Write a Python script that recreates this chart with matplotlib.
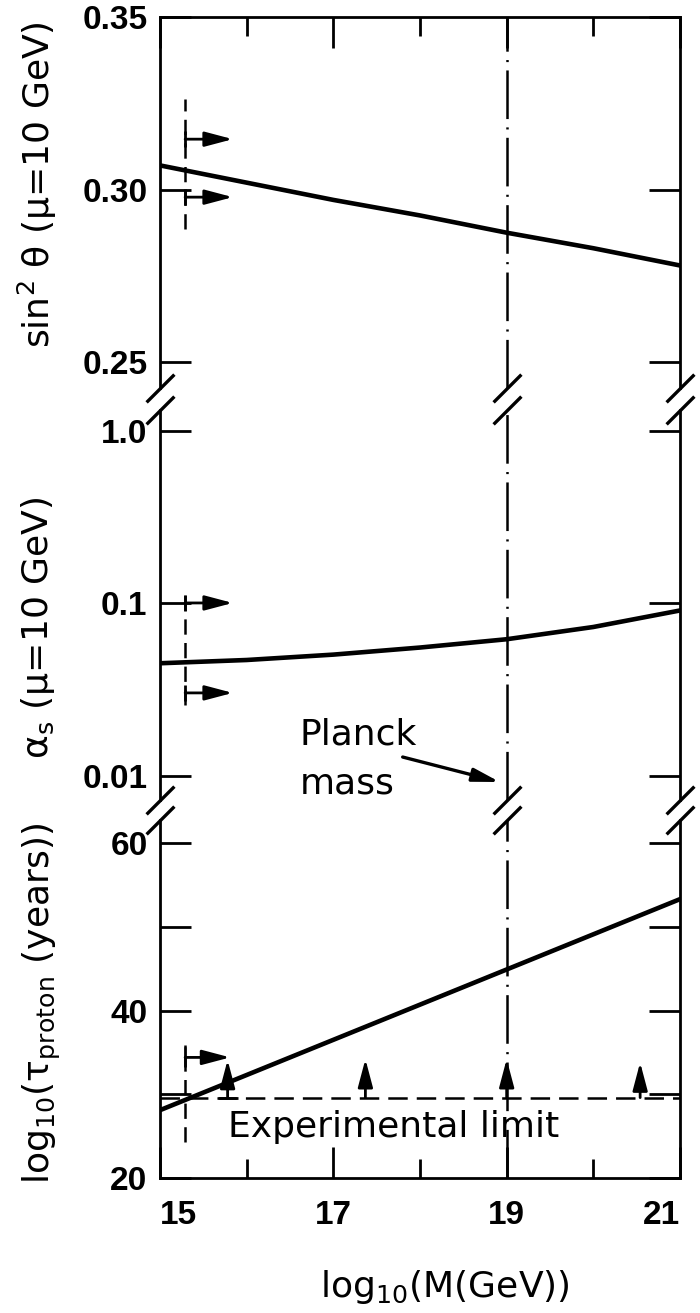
import matplotlib
matplotlib.use('Agg')
import matplotlib.pyplot as plt
from matplotlib.ticker import NullLocator

plt.rcParams['font.family'] = ['DejaVu Sans']
plt.rcParams['mathtext.default'] = 'regular'
plt.rcParams['lines.scale_dashes'] = False

# data
logM = [15, 16, 17, 18, 19, 20, 21]
sin2_theta = [0.307, 0.302, 0.297, 0.2925, 0.2875, 0.283, 0.278]
alpha_s = [0.045, 0.047, 0.0505, 0.0555, 0.062, 0.073, 0.091]
log_tau = [28.1, 32.3, 36.5, 40.7, 44.9, 49.1, 53.3]

planck_mass = 19
lower_limit = 15.29
arrow_end = 15.84
sin2_limits = [0.3146, 0.2978]
alpha_limits = [0.1006, 0.0303]
tau_limit_arrow = 34.4
exp_limit = 29.6
up_arrows_x = [15.78, 17.37, 19.0, 20.54]
up_arrows_tip = [34.1, 34.2, 34.2, 33.8]

H = 1313.0
L, W = 160 / 700, 520 / 700


def box(top, bot):
    return [L, 1 - bot / H, W, (bot - top) / H]


fig = plt.figure(figsize=(7, 13.13), dpi=100)
ax1 = fig.add_axes(box(17, 388))
ax2 = fig.add_axes(box(410, 800))
ax3 = fig.add_axes(box(820, 1178))

dashdot = (0, (35, 6, 1.5, 6))
dashed = (0, (11, 6))
head = '-|>,head_length=1.7,head_width=0.45'


def arrow(ax, tail, tip):
    ax.annotate('', xy=tip, xytext=tail,
                arrowprops=dict(arrowstyle=head, color='k', lw=2,
                                shrinkA=0, shrinkB=0, mutation_scale=10))


for ax in (ax1, ax2, ax3):
    ax.set_xlim(15, 21)
    for s in ax.spines.values():
        s.set_linewidth(2)
    ax.tick_params(which='both', direction='in', left=True, right=True,
                   width=2, labelsize=24, labelfontfamily='Liberation Sans', pad=9)
    ax.tick_params(axis='y', which='both', length=22)
    ax.set_xticks([15, 17, 19, 21])
    ax.set_xticks([16, 18, 20], minor=True)
    ax.tick_params(axis='x', which='major', length=22)
    ax.tick_params(axis='x', which='minor', length=14)
    ax.axvline(planck_mass, color='k', lw=1.8, linestyle=dashdot)

# top panel
ax1.spines['bottom'].set_visible(False)
ax1.set_ylim(0.2425, 0.35)
ax1.set_yticks([0.25, 0.30, 0.35], ['0.25', '0.30', '0.35'])
ax1.tick_params(axis='x', which='both', top=True, bottom=False,
                labeltop=False, labelbottom=False)
ax1.plot(logM, sin2_theta, color='k', lw=3.3)
ax1.plot([lower_limit, lower_limit], [0.2885, 0.3262], color='k', lw=1.8, linestyle=dashed)
for y in sin2_limits:
    ax1.plot(lower_limit, y, marker='|', ms=12, mew=2, color='k')
    arrow(ax1, (lower_limit, y), (arrow_end, y))

# middle panel
ax2.spines['top'].set_visible(False)
ax2.spines['bottom'].set_visible(False)
ax2.set_yscale('log')
ax2.set_ylim(0.00726, 1.32)
ax2.set_yticks([0.01, 0.1, 1.0], ['0.01', '0.1', '1.0'])
ax2.yaxis.set_minor_locator(NullLocator())
ax2.tick_params(axis='x', which='both', top=False, bottom=False, labelbottom=False)
ax2.plot(logM, alpha_s, color='k', lw=3.3)
ax2.plot([lower_limit, lower_limit], [0.0258, 0.115], color='k', lw=1.8, linestyle=dashed)
for y in alpha_limits:
    ax2.plot(lower_limit, y, marker='|', ms=12, mew=2, color='k')
    arrow(ax2, (lower_limit, y), (arrow_end, y))
ax2.text(16.61, 0.01513, 'Planck', fontsize=26, ha='left', va='baseline')
ax2.text(16.61, 0.00797, 'mass', fontsize=26, ha='left', va='baseline')
ax2.annotate('', xy=(18.92, 0.00923), xytext=(17.80, 0.01288),
             arrowprops=dict(arrowstyle='-|>,head_length=1.6,head_width=0.4',
                             color='k', lw=2.4, shrinkA=0, shrinkB=0, mutation_scale=10))

# bottom panel
ax3.spines['top'].set_visible(False)
ax3.set_ylim(20, 62.75)
ax3.set_yticks([20, 40, 60], ['20', '40', '60'])
ax3.set_yticks([30, 50], minor=True)
ax3.tick_params(axis='x', which='both', top=False, bottom=True, pad=16)
ax3.set_xticks([15, 17, 19, 21], ['15', '17', '19', '21'])
lbls = ax3.get_xticklabels()
lbls[0].set_ha('left')
lbls[-1].set_ha('right')
ax3.plot(logM, log_tau, color='k', lw=3.3)
ax3.axhline(exp_limit, color='k', lw=1.8, linestyle=(0, (14, 6.5)))
ax3.plot([lower_limit, lower_limit], [24.3, 35.9], color='k', lw=1.8, linestyle=dashed)
ax3.plot(lower_limit, tau_limit_arrow, marker='|', ms=14, mew=2, color='k')
arrow(ax3, (lower_limit, tau_limit_arrow), (15.81, tau_limit_arrow))
for x, tip in zip(up_arrows_x, up_arrows_tip):
    arrow(ax3, (x, exp_limit), (x, tip))
ax3.plot(up_arrows_x[0], exp_limit, marker='_', ms=14, mew=2, color='k')
ax3.text(15.78, 24.9, 'Experimental limit', fontsize=26, ha='left', va='baseline')

for ax in (ax1, ax2, ax3):
    for t in ax.get_xticklabels() + ax.get_yticklabels():
        t.set_fontweight('bold')

# axis break marks
brk = dict(marker=[(-1, -1), (1, 1)], ms=20, mew=2.4, color='k',
           linestyle='none', clip_on=False)
xs = [15, 19, 21]
ax1.plot(xs, [0, 0, 0], transform=ax1.get_xaxis_transform(), **brk)
ax2.plot(xs, [1, 1, 1], transform=ax2.get_xaxis_transform(), **brk)
ax2.plot(xs, [0, 0, 0], transform=ax2.get_xaxis_transform(), **brk)
ax3.plot(xs, [1, 1, 1], transform=ax3.get_xaxis_transform(), **brk)

# axis labels
fig.text(37 / 700, 1 - 185 / H, r'sin$^2$ θ (μ=10 GeV)', rotation=90,
         ha='center', va='center', fontsize=26)
fig.text(38 / 700, 1 - 628 / H, r'$\alpha_s$ (μ=10 GeV)', rotation=90,
         ha='center', va='center', fontsize=26)
fig.text(42 / 700, 1 - 1003 / H, r'log$_{10}$($\tau_{proton}$ (years))', rotation=90,
         ha='center', va='center', fontsize=26)
fig.text(445 / 700, 1 - 1287 / H, r'log$_{10}$(M(GeV))', ha='center', va='center', fontsize=26)

fig.savefig('out.png', dpi=100)
